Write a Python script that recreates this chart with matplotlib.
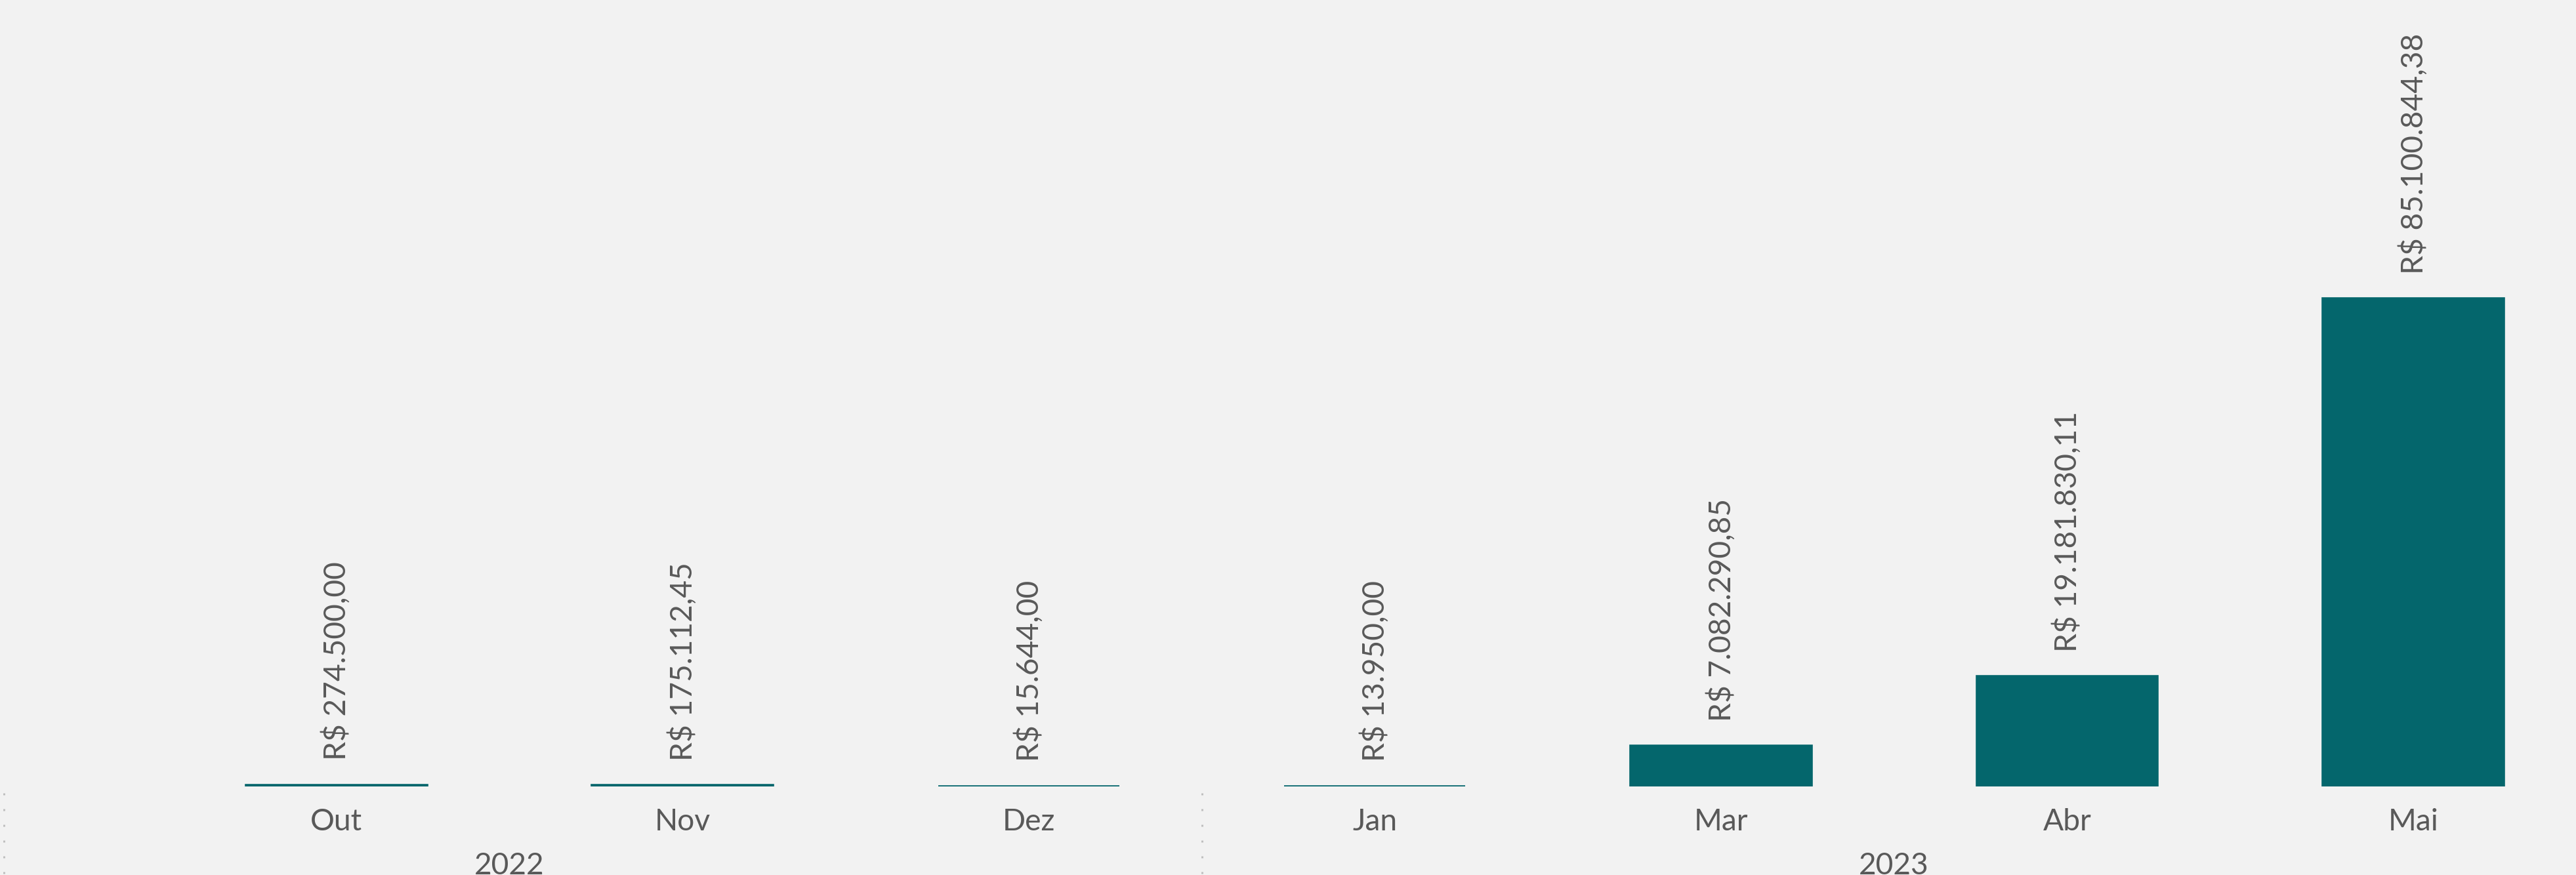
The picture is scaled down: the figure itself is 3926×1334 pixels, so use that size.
import matplotlib.pyplot as plt
from matplotlib.transforms import blended_transform_factory

# dados
meses = ["Out", "Nov", "Dez", "Jan", "Mar", "Abr", "Mai"]
valores = [274500.00, 175112.45, 15644.00, 13950.00, 7082290.85, 19181830.11, 85100844.38]
anos = ["2022", "2023"]
# posição central (em categorias) de cada ano e separadores
ano_centros = [0.5, 4.5]
separadores = [2.5]

cor_barra = "#04666C"
cor_texto = "#595959"
fundo = "#F2F2F2"


def fmt_real(v):
    s = f"{v:,.2f}".replace(",", "X").replace(".", ",").replace("X", ".")
    return "R$ " + s


plt.rcParams["font.family"] = ["Lato", "DejaVu Sans"]

dpi = 200
fig = plt.figure(figsize=(3926 / dpi, 1334 / dpi), dpi=dpi, facecolor=fundo)
base = 1 - 1199 / 1334
ax = fig.add_axes([0, base, 1, 1 - base])
ax.set_facecolor(fundo)

x = list(range(len(meses)))
ax.bar(x, valores, width=0.523, color=cor_barra, edgecolor=cor_barra, linewidth=1.3)

ax.set_xlim(-0.972, 6.47)
ax.set_ylim(0, max(valores) * 1199 / 744)

for xi, v in zip(x, valores):
    ax.annotate(fmt_real(v), (xi, v), xytext=(0, 13.5), textcoords="offset points",
                rotation=90, ha="center", va="bottom", fontsize=16.6, color=cor_texto)

ax.set_xticks(x)
ax.set_xticklabels(meses, fontsize=16.6, color=cor_texto)
ax.tick_params(axis="x", length=0, pad=12)
ax.set_yticks([])
for s in ax.spines.values():
    s.set_visible(False)

trans = blended_transform_factory(ax.transData, ax.transAxes)
for c, a in zip(ano_centros, anos):
    ax.annotate(a, (c, 0), xycoords=trans, xytext=(0, -36), textcoords="offset points",
                ha="center", va="top", fontsize=16.6, color=cor_texto)

# separadores pontilhados
y_top = 1 - 1209 / 1334
tsep = blended_transform_factory(ax.transData, fig.transFigure)
for s in separadores:
    ax.plot([s, s], [y_top, 0], transform=tsep, clip_on=False, color="#BFBFBF",
            linewidth=1.08, linestyle=(0, (1, 7)))
fig.add_artist(plt.Line2D([6 / 3926, 6 / 3926], [y_top, 0], transform=fig.transFigure,
                          color="#BFBFBF", linewidth=1.08, linestyle=(0, (1, 7))))

fig.savefig("out.png", dpi=dpi, facecolor=fundo)
